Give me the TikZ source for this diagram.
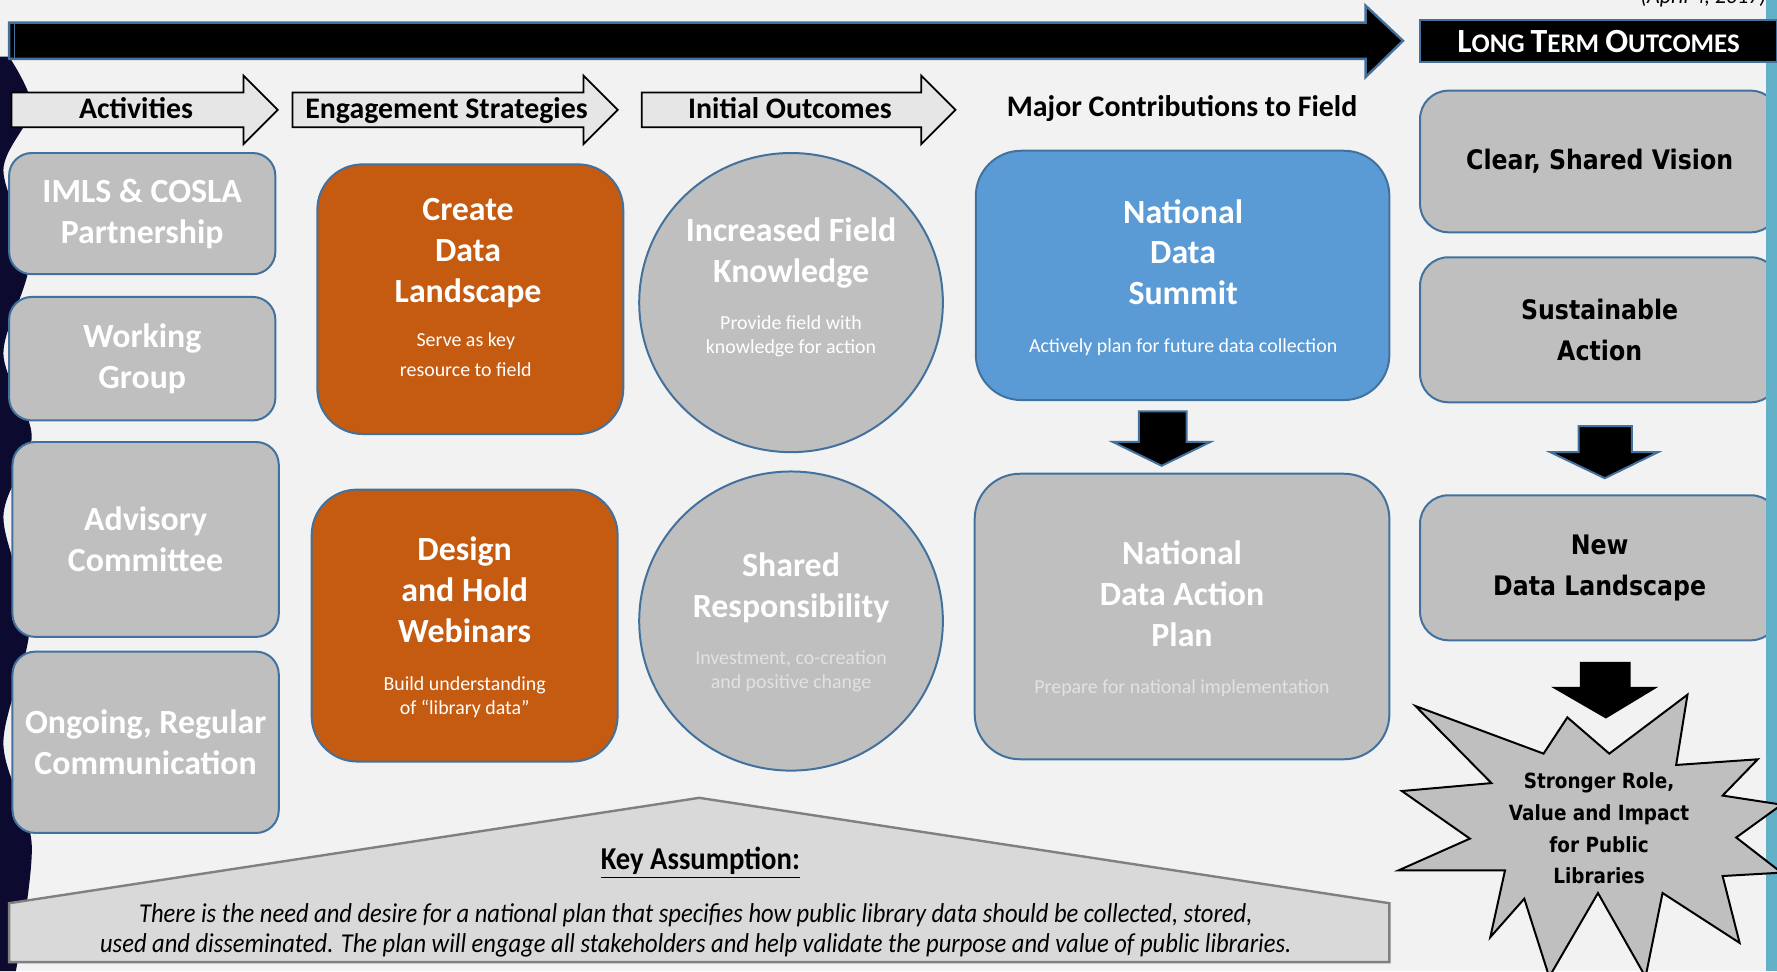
\documentclass[tikz,border=0pt]{standalone}
\usepackage{fontspec}
\setmainfont{Carlito}
\newfontfamily\widefont[FakeStretch=0.88]{DejaVu Sans}
\newfontfamily\narrowfont[FakeStretch=0.9]{Carlito}
\usepackage{xcolor}
\definecolor{bbg}{HTML}{F2F2F2}
\definecolor{ggray}{HTML}{BFBFBF}
\definecolor{bborder}{HTML}{41719C}
\definecolor{oorange}{HTML}{C55A11}
\definecolor{bblue}{HTML}{5B9BD5}
\definecolor{nnavy}{HTML}{0C0A2E}
\definecolor{tteal}{HTML}{63B1C9}
\definecolor{llight}{HTML}{E6E6E6}
\definecolor{kkey}{HTML}{D9D9D9}
\definecolor{ddim}{HTML}{E2E2E2}
\usetikzlibrary{shapes.geometric,shapes.arrows}
\newcommand\titlefnt{\fontsize{17}{20.5}\selectfont\bfseries}
\newcommand\subfnt{\fontsize{10}{12}\selectfont}
\newcommand\headfnt{\fontsize{15}{18}\selectfont\bfseries}
\newcommand\widefnt{\widefont\bfseries\fontsize{13.5}{20.5}\selectfont}
\newcommand\burstfnt{\widefont\bfseries\fontsize{10.5}{15.9}\selectfont}

\begin{document}
\begin{tikzpicture}[x=0.02cm,y=-0.02cm,
		gbox/.style={draw=bborder,fill=ggray,line width=1pt,rounded corners=0.4cm,text=white,align=center,inner sep=0pt,font=\titlefnt},
		obox/.style={draw=bborder,fill=oorange,line width=1pt,rounded corners=0.8cm,inner sep=0pt},
		cbox/.style={ellipse,draw=bborder,fill=ggray,line width=1pt,inner sep=0pt,minimum width=5.36cm,minimum height=5.28cm},
		bbox/.style={draw=bborder,fill=bblue,line width=1pt,rounded corners=0.8cm,inner sep=0pt},
		rbox/.style={draw=bborder,fill=ggray,line width=1pt,rounded corners=0.5cm,minimum width=6.34cm,align=center,inner sep=0pt,font=\widefnt},
		ttl/.style={text=white,align=center,font=\titlefnt},
		subtxt/.style={text=white,align=center,font=\subfnt},
		hdarrow/.style={single arrow,draw=black,fill=llight,line width=0.9pt,single arrow head extend=0.3cm,text height=0.44cm,text depth=0.14cm,inner ysep=0pt,font=\headfnt},
		darrow/.style={fill=black,draw=bborder,line width=1pt}]
	\useasboundingbox (0,0) rectangle (1568,857);
	\clip (0,0) rectangle (1568,857);
	\fill[bbg] (0,0) rectangle (1568,857);
	\fill[nnavy] (0,50) -- plot[smooth] coordinates {(8,50) (28,95) (3,150) (26,230) (3,312) (28,385) (3,456) (26,553) (3,656) (28,745) (14,857)} -- (0,857) -- cycle;

	\draw[fill=black,draw=bborder,line width=1.2pt] (8,20) -- (1205,20) -- (1205,5) -- (1238,36) -- (1205,68) -- (1205,52) -- (8,52) -- cycle;
	\draw[bborder,line width=0.6pt] (13,21) -- (13,51);
	\node[font=\fontsize{11}{13}\selectfont\itshape] (date) at (1503,-2) {(April 4, 2017)};

	\node[hdarrow,minimum height=4.7cm] (h1) at (120,97) {Activities};
	\node[hdarrow,minimum height=5.74cm] (h2) at (394,97) {Engagement Strategies};
	\node[hdarrow,minimum height=5.54cm] (h3) at (697,97) {Initial Outcomes};
	\node[font=\headfnt] (h4) at (1043,96) {Major Contributions to Field};

	\node[gbox,minimum width=4.7cm,minimum height=2.14cm] (act1) at (125.5,188.5) {IMLS \& COSLA\\Partnership};
	\node[gbox,minimum width=4.7cm,minimum height=2.18cm] (act2) at (125.5,316.5) {Working\\Group};
	\node[gbox,minimum width=4.7cm,minimum height=3.44cm] (act3) at (128.5,476) {Advisory\\Committee};
	\node[gbox,minimum width=4.7cm,minimum height=3.2cm] (act4) at (128.5,655) {Ongoing, Regular\\Communication};

	\node[obox,minimum width=5.4cm,minimum height=4.76cm] (eng1) at (415,264) {};
	\node[ttl] (eng1t) at (413,223.5) {Create\\Data\\Landscape};
	\node[subtxt,font=\fontsize{10}{14.8}\selectfont] (eng1s) at (411,313) {Serve as key\\resource to field};
	\node[obox,minimum width=5.4cm,minimum height=4.8cm] (eng2) at (410,552) {};
	\node[ttl] (eng2t) at (410,520.5) {Design\\and Hold\\Webinars};
	\node[subtxt] (eng2s) at (410,615.5) {Build understanding\\of “library data”};

	\node[cbox] (out1) at (698,267) {};
	\node[ttl] (out1t) at (698,223) {Increased Field\\Knowledge};
	\node[subtxt] (out1s) at (698,296.5) {Provide field with\\knowledge for action};
	\node[cbox] (out2) at (698,548) {};
	\node[ttl] (out2t) at (698,519) {Shared\\Responsibility};
	\node[subtxt,text=ddim] (out2s) at (698,592.5) {Investment, co-creation\\and positive change};

	\node[bbox,minimum width=7.3cm,minimum height=4.4cm] (maj1) at (1043.5,243) {};
	\node[ttl] (maj1t) at (1044,222.5) {National\\Data\\Summit};
	\node[subtxt] (maj1s) at (1044,306) {Actively plan for future data collection};
	\draw[darrow] (1005,363) -- (1047,363) -- (1047,390) -- (1068,390) -- (1025,411) -- (982,390) -- (1005,390) -- cycle;
	\node[gbox,rounded corners=0.8cm,minimum width=7.32cm,minimum height=5.04cm] (maj2) at (1043,544) {};
	\node[ttl] (maj2t) at (1043,524) {National\\Data Action\\Plan};
	\node[subtxt,text=ddim] (maj2s) at (1043,607) {Prepare for national implementation};

	\node[rbox,minimum height=2.5cm] (lt1) at (1411.5,142.5) {Clear, Shared Vision};
	\node[rbox,minimum height=2.56cm] (lt2) at (1411.5,291) {Sustainable\\Action};
	\draw[darrow] (1393,376) -- (1440,376) -- (1440,399) -- (1463,399) -- (1416,422) -- (1368,399) -- (1393,399) -- cycle;
	\node[rbox,minimum height=2.56cm] (lt3) at (1411.5,501) {New\\Data Landscape};
	\fill[tteal] (1558,0) rectangle (1568,857);
	\node[draw=bborder,fill=black,line width=1pt,minimum width=6.3cm,minimum height=0.74cm,inner sep=0pt,text=white,font=\fontsize{13.5}{16}\selectfont\bfseries] (lt0) at (1410.5,36.5) {{\fontsize{17}{17}\selectfont L}ONG {\fontsize{17}{17}\selectfont T}ERM {\fontsize{17}{17}\selectfont O}UTCOMES};
	\draw[darrow,draw=black] (1395,585) -- (1438,585) -- (1438,607) -- (1460,607) -- (1417,633) -- (1372,607) -- (1395,607) -- cycle;
	\draw[fill=ggray,draw=black,line width=1pt] (1249,623) -- (1362,665) -- (1383,633) -- (1420,665) -- (1489,613) -- (1479,675) -- (1551,670) -- (1520,702) -- (1572,710) -- (1532,739) -- (1572,770) -- (1520,773) -- (1535,832) -- (1467,788) -- (1452,862) -- (1410,788) -- (1367,862) -- (1345,793) -- (1315,827) -- (1328,768) -- (1234,768) -- (1297,740) -- (1237,698) -- (1316,691) -- cycle;
	\node[font=\burstfnt,align=center] (lt4) at (1411,731) {Stronger Role,\\Value and Impact\\for Public\\Libraries};

	\draw[fill=kkey,draw=gray,line width=1.2pt] (8,797) -- (617,704) -- (1226,797) -- (1226,849) -- (8,849) -- cycle;
	\node[font=\narrowfont\bfseries\fontsize{16}{16}\selectfont] (key) at (618,761) {\underline{Key Assumption:}};
	\node[font=\narrowfont\itshape\fontsize{13.7}{14.8}\selectfont,align=center] (keytxt) at (614,821) {There is the need and desire for a national plan that specifies how public library data should be collected, stored,\\used and disseminated. The plan will engage all stakeholders and help validate the purpose and value of public libraries.};
\end{tikzpicture}
\end{document}
